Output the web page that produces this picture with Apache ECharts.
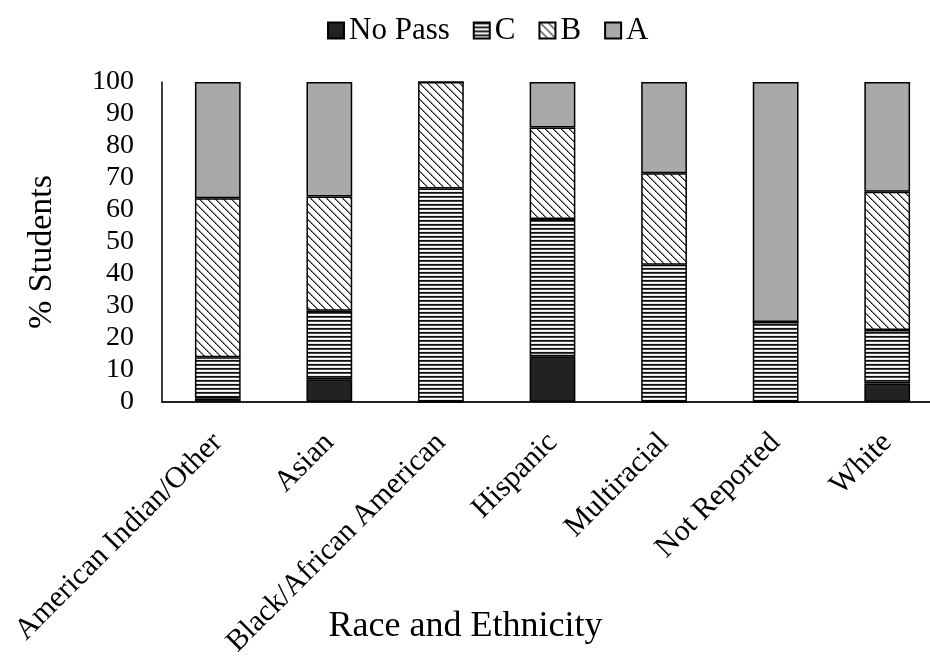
<!DOCTYPE html>
<html>
<head>
<meta charset="utf-8">
<script src="https://cdn.jsdelivr.net/npm/echarts@6/dist/echarts.min.js"></script>
<style>
  html, body { margin: 0; padding: 0; background: #fff; }
  #chart { width: 930px; height: 661px; }
</style>
</head>
<body>
<div id="chart"></div>
<script>
// Grade distribution (% of students) by race and ethnicity
const categories = [
  'American Indian/Other', 'Asian', 'Black/African American',
  'Hispanic', 'Multiracial', 'Not Reported', 'White'
];
const noPass = [1.1, 7.1, 0, 14.3, 0, 0, 5.8];
const gradeC = [12.9, 21.4, 66.7, 42.9, 42.9, 25.0, 16.7];
const gradeB = [49.7, 35.7, 33.3, 28.6, 28.6, 0, 43.2];
const gradeA = [36.3, 35.8, 0, 14.2, 28.5, 75.0, 34.3];
const yTicks = [0, 10, 20, 30, 40, 50, 60, 70, 80, 90, 100];

const FONT = '"Liberation Serif", "Times New Roman", serif';

// Horizontal line hatch
function hatchHorizontal() {
  const c = document.createElement('canvas');
  c.width = 4; c.height = 4;
  const g = c.getContext('2d');
  g.fillStyle = '#fff'; g.fillRect(0, 0, 4, 4);
  g.fillStyle = '#111'; g.fillRect(0, 0, 4, 1);
  g.fillStyle = '#444'; g.fillRect(0, 1, 4, 1);
  g.fillStyle = '#e6e6e6'; g.fillRect(0, 3, 4, 1);
  return c;
}

// Downward diagonal hatch
function hatchDiagonal() {
  const n = 8;
  const c = document.createElement('canvas');
  c.width = n; c.height = n;
  const g = c.getContext('2d');
  g.fillStyle = '#fff'; g.fillRect(0, 0, n, n);
  for (let i = 0; i < n; i++) {
    g.fillStyle = (i % 2) ? '#111' : '#444';
    g.fillRect(i, i, 1, 1);
    g.fillStyle = '#777'; g.fillRect((i + 1) % n, i, 1, 1);
  }
  return c;
}

const fills = {
  'No Pass': '#222222',
  'C': { image: hatchHorizontal(), repeat: 'repeat' },
  'B': { image: hatchDiagonal(), repeat: 'repeat' },
  'A': '#a9a9a9'
};

function barSeries(name, values) {
  return {
    name: name,
    type: 'bar',
    stack: 'total',
    barWidth: '41%',
    data: values,
    itemStyle: { color: fills[name], borderColor: '#000', borderWidth: 1.5 },
    emphasis: { disabled: true }
  };
}

const chart = echarts.init(document.getElementById('chart'), null, { renderer: 'canvas' });
chart.setOption({
  animation: false,
  backgroundColor: '#fff',
  legend: {
    top: 10,
    left: 322,
    itemWidth: 16,
    itemHeight: 16,
    itemGap: 23,
    icon: 'rect',
    textStyle: { fontFamily: FONT, fontSize: 31, color: '#000' },
    data: ['No Pass', 'C', 'B', 'A']
  },
  grid: {
    left: 162, width: 781, top: 82, bottom: 259,
    containLabel: false,
    outerBoundsMode: 'none'
  },
  xAxis: {
    type: 'category',
    data: categories,
    name: 'Race and Ethnicity',
    nameLocation: 'middle',
    nameGap: 207,
    nameMoveOverlap: false,
    nameTextStyle: {
      fontFamily: FONT, fontSize: 36, color: '#000',
      padding: [0, 174, 0, 0]
    },
    axisLine: { lineStyle: { color: '#222', width: 2 } },
    axisTick: { show: false },
    axisLabel: {
      rotate: 45,
      interval: 0,
      margin: 36,
      fontFamily: FONT, fontSize: 30, color: '#000'
    }
  },
  yAxis: {
    type: 'value',
    min: yTicks[0],
    max: yTicks[yTicks.length - 1],
    interval: yTicks[1] - yTicks[0],
    name: '% Students',
    nameLocation: 'middle',
    nameGap: 103,
    nameMoveOverlap: false,
    nameTextStyle: {
      fontFamily: FONT, fontSize: 34, color: '#000',
      padding: [0, 20, 0, 0]
    },
    axisLine: { show: true, lineStyle: { color: '#000', width: 1.5 } },
    axisTick: { show: false },
    splitLine: { show: false },
    axisLabel: { margin: 28, fontFamily: FONT, fontSize: 28, color: '#000' }
  },
  series: [
    barSeries('No Pass', noPass),
    barSeries('C', gradeC),
    barSeries('B', gradeB),
    barSeries('A', gradeA)
  ]
});
</script>
</body>
</html>
